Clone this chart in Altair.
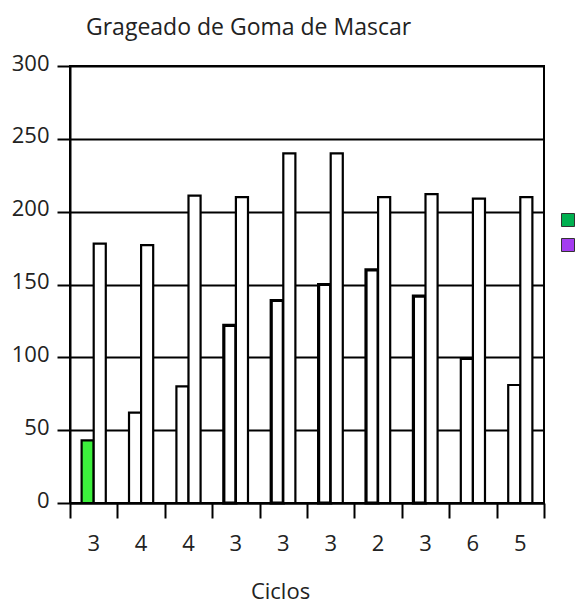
import json
import altair as alt
import pandas as pd

# ---- data ----
titulo = "Grageado de Goma de Mascar"
ciclos = ["3", "4", "4", "3", "3", "3", "2", "3", "6", "5"]
serie_1 = [43, 62, 80, 122, 139, 150, 160, 142, 99, 81]
serie_2 = [178, 177, 211, 210, 240, 240, 210, 212, 209, 210]
nomes_series = ["Série 1", "Série 2"]
y_ticks = [0, 50, 100, 150, 200, 250, 300]

rows = []
for i in range(len(ciclos)):
    rows.append({"grupo": i, "serie": nomes_series[0], "valor": serie_1[i]})
    rows.append({"grupo": i, "serie": nomes_series[1], "valor": serie_2[i]})
df = pd.DataFrame(rows)
bounds = pd.DataFrame({"b": list(range(len(ciclos) + 1))})

FONT = "Open Sans"
TXT = "#222222"
legend_colors = ["#00b050", "#a43cf0"]

label_expr = json.dumps(ciclos) + "[datum.value]"

bars = alt.Chart(df).mark_bar(stroke="black").encode(
    x=alt.X(
        "grupo:O",
        scale=alt.Scale(paddingInner=0.49, paddingOuter=0.245),
        axis=alt.Axis(
            orient="bottom", labelExpr=label_expr, labelAngle=0, ticks=False,
            domain=True, domainColor="black", domainWidth=2, grid=False,
            labelFontSize=22, labelPadding=30, labelColor=TXT, labelFont=FONT,
            title="Ciclos", titleFontSize=22, titleFont=FONT, titleColor=TXT,
            titleFontWeight="normal", titlePadding=27, titleX=210,
            titleAlign="center", titleAnchor="start",
        ),
    ),
    xOffset=alt.XOffset("serie:N", sort=nomes_series,
                        scale=alt.Scale(paddingInner=0, paddingOuter=0)),
    y=alt.Y(
        "valor:Q",
        scale=alt.Scale(domain=[0, 300], nice=False),
        axis=alt.Axis(
            values=y_ticks, grid=True, gridColor="black", gridWidth=2, gridOpacity=1,
            tickSize=13, tickWidth=2, tickColor="black", domainColor="black",
            domainWidth=2, labelFontSize=22, labelPadding=8, labelColor=TXT,
            labelFont=FONT, labelBaseline="alphabetic", labelOffset=4, title=None,
        ),
    ),
    fill=alt.condition(
        f"datum.grupo == 0 && datum.serie == '{nomes_series[0]}'",
        alt.value("#3cf03c"), alt.value("white"),
    ),
    strokeWidth=alt.condition(
        f"datum.serie == '{nomes_series[0]}' && datum.grupo >= 3 && datum.grupo <= 7",
        alt.value(3.2), alt.value(2.2),
    ),
)

ticks = alt.Chart(bounds).mark_rule(opacity=0).encode(
    x=alt.X(
        "b:Q",
        scale=alt.Scale(domain=[0, len(ciclos)], nice=False, zero=False),
        axis=alt.Axis(
            orient="bottom", values=list(range(len(ciclos) + 1)), tickSize=15,
            tickWidth=2, tickColor="black", labels=False, domain=False,
            grid=False, title=None,
        ),
    )
)

legend_layer = alt.Chart(df).mark_square(opacity=0, filled=True).encode(
    color=alt.Color(
        "serie:N",
        scale=alt.Scale(domain=nomes_series, range=legend_colors),
        legend=alt.Legend(
            orient="none", legendX=491, legendY=147, title=None,
            symbolType="square", symbolSize=169, symbolStrokeColor="#333333",
            symbolStrokeWidth=1, symbolOpacity=1, labelFontSize=13,
            labelFont=FONT, rowPadding=7, padding=0, labelOffset=20,
        ),
    )
)

chart = alt.layer(bars, ticks, legend_layer).resolve_scale(
    x="independent"
).resolve_axis(x="independent").properties(
    width=474,
    height=437,
    title=alt.TitleParams(
        titulo, anchor="start", frame="group", dx=16, fontSize=23, font=FONT,
        fontWeight="normal", color=TXT, offset=-6, baseline="alphabetic",
    ),
    padding={"left": 70, "top": 66, "right": 33, "bottom": 100},
    autosize=alt.AutoSizeParams(type="none"),
).configure_view(stroke="black", strokeWidth=2)

chart.save("out.html", embed_options={"renderer": "svg", "actions": False})
